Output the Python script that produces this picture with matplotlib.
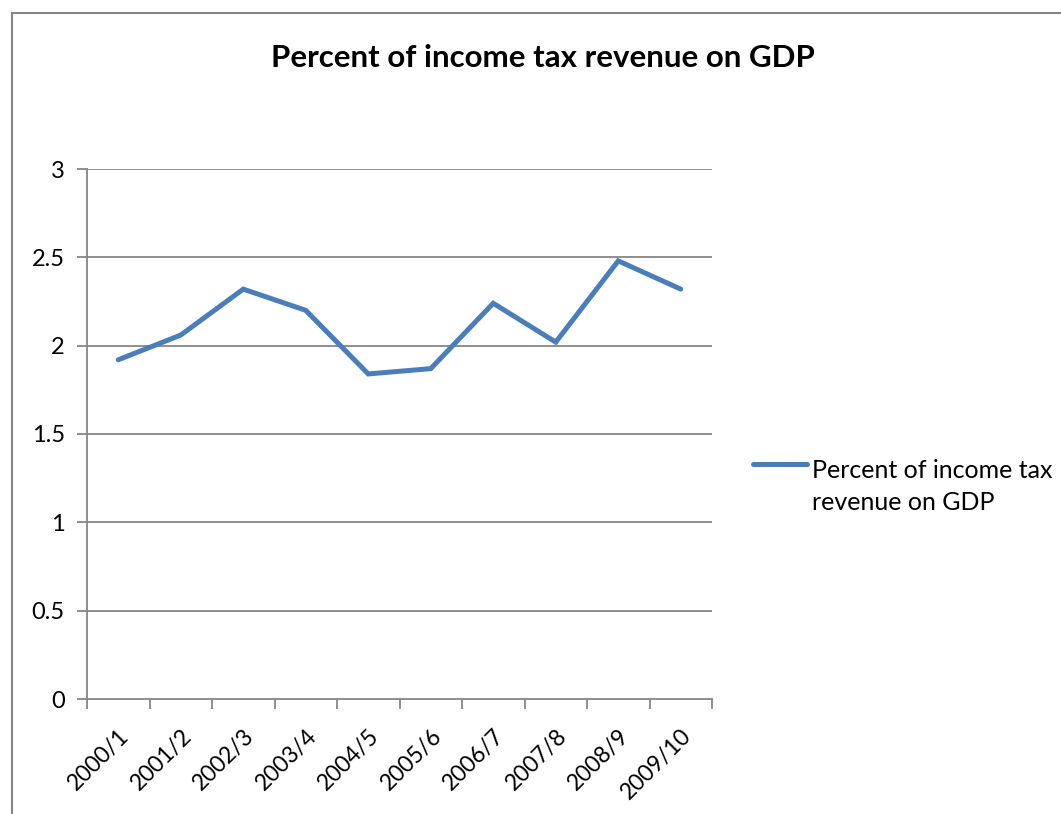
import matplotlib
matplotlib.use("Agg")
import matplotlib.pyplot as plt
import matplotlib.transforms as mtransforms
from matplotlib.patches import Rectangle
from matplotlib.lines import Line2D

# Fiscal years and income tax revenue as a share of GDP (%)
years = ["2000/1", "2001/2", "2002/3", "2003/4", "2004/5",
         "2005/6", "2006/7", "2007/8", "2008/9", "2009/10"]
pct_gdp = [1.92, 2.06, 2.32, 2.20, 1.84, 1.87, 2.24, 2.02, 2.48, 2.32]
series_name = "Percent of income tax revenue on GDP"
legend_lines = ["Percent of income tax", "revenue on GDP"]
y_ticks = [0, 0.5, 1, 1.5, 2, 2.5, 3]
y_tick_labels = ["0", "0.5", "1", "1.5", "2", "2.5", "3"]

plt.rcParams["font.family"] = ["Lato", "DejaVu Sans"]

W, H = 1061, 814
fig = plt.figure(figsize=(W / 100, H / 100), dpi=100)
fig.patch.set_facecolor("white")

grey = "#868686"
blue = "#4A7EBB"

# chart frame (runs off the right and bottom of the canvas)
fig.patches.append(Rectangle((11.5 / W, -0.1), 1.2, 1 - 13 / H + 0.1,
                             transform=fig.transFigure, fill=False,
                             edgecolor=grey, linewidth=1.5))

ax = fig.add_axes([87 / W, 1 - 699 / H, (712 - 87) / W, (699 - 169) / H])
xs = list(range(len(years)))
ax.plot(xs, pct_gdp, color=blue, linewidth=3.6,
        solid_capstyle="round", solid_joinstyle="miter")

ax.set_xlim(-0.5, len(years) - 0.5)
ax.set_ylim(0, 3)
ax.set_yticks(y_ticks)
ax.set_yticklabels(y_tick_labels, fontsize=17)
for y in y_ticks[1:]:
    ax.axhline(y, color=grey, linewidth=1.3, zorder=0)

# category boundary ticks on the x axis, labels at the centers
ax.set_xticks([i - 0.5 for i in range(len(years) + 1)])
ax.set_xticklabels([])
ax.set_xticks(xs, minor=True)
ax.set_xticklabels(years, minor=True, rotation=45, ha="right",
                   va="top", rotation_mode="anchor", fontsize=16.5)
shift = mtransforms.ScaledTranslation(8 / 100, 0, fig.dpi_scale_trans)
for lbl in ax.get_xticklabels(minor=True):
    lbl.set_transform(lbl.get_transform() + shift)
ax.tick_params(axis="x", which="major", length=7, width=1.3, color=grey,
               direction="out")
ax.tick_params(axis="x", which="minor", length=0, pad=19)
ax.tick_params(axis="y", length=7, width=1.3, color=grey, pad=9)

for side in ("top", "right"):
    ax.spines[side].set_visible(False)
for side in ("left", "bottom"):
    ax.spines[side].set_color(grey)
    ax.spines[side].set_linewidth(1.3)

fig.text(543 / W, 1 - 67 / H, series_name, ha="center", va="baseline",
         fontsize=22.5, fontweight="bold")

# legend
fig.add_artist(Line2D([753 / W, 807 / W], [1 - 464 / H, 1 - 464 / H],
                      transform=fig.transFigure, color=blue, linewidth=3.6,
                      solid_capstyle="round"))
for i, txt in enumerate(legend_lines):
    fig.text(812 / W, 1 - (478 + 32 * i) / H, txt, ha="left",
             va="baseline", fontsize=18)

fig.savefig("out.png", dpi=100, facecolor="white")
